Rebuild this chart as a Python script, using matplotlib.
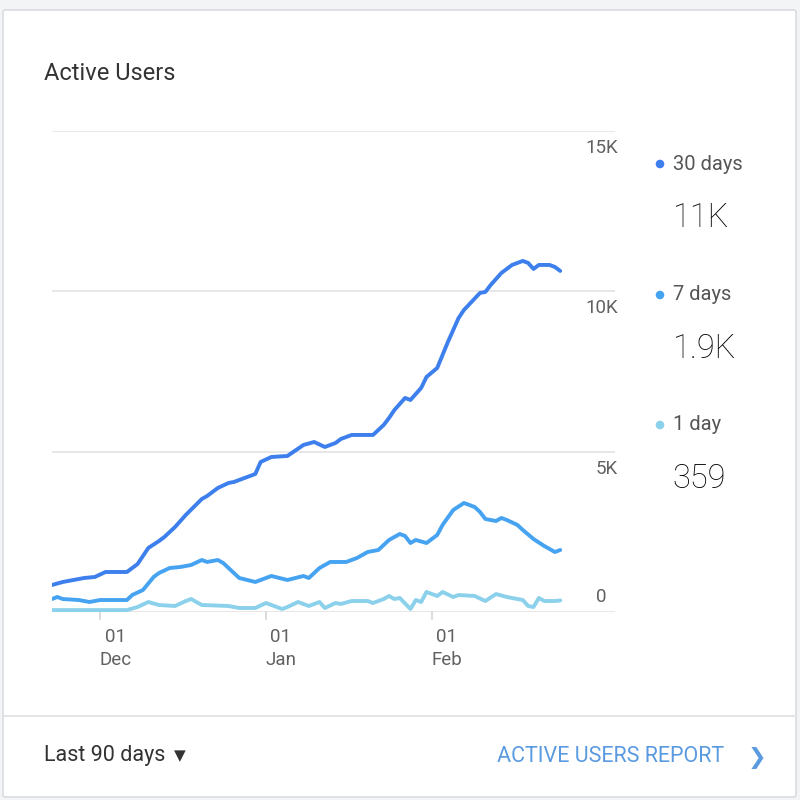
import numpy as np
import matplotlib
matplotlib.use("Agg")
import matplotlib.pyplot as plt
from matplotlib.patches import FancyBboxPatch, Circle
from matplotlib.transforms import blended_transform_factory

# ---------------- data ----------------
start_date = np.datetime64("2018-11-22")

days_30 = [0, 2, 3, 6, 8, 10, 14, 15, 16, 18, 20, 21, 23, 25, 28, 29, 31, 33, 34, 38, 39, 41, 44, 47,
           49, 51, 53, 54, 56, 60, 62, 63, 64, 66, 67, 69, 70, 72, 74, 76, 77, 80, 81, 82, 84, 86,
           88, 89, 90, 91, 93, 94, 95]
users_30 = [842, 936, 967, 1060, 1092, 1248, 1248, 1372, 1497, 1996, 2214, 2339, 2651, 3025, 3524,
            3618, 3868, 4024, 4055, 4304, 4679, 4834, 4866, 5209, 5302, 5146, 5271, 5396, 5521, 5521,
            5833, 6051, 6300, 6675, 6612, 6987, 7330, 7610, 8421, 9170, 9419, 9950, 9981, 10199,
            10573, 10823, 10948, 10885, 10698, 10823, 10823, 10760, 10636]

days_7 = [0, 1, 2, 5, 7, 9, 14, 15, 17, 19, 20, 22, 24, 25, 26, 28, 29, 31, 32, 33, 35, 38, 41, 44,
          47, 48, 50, 52, 55, 57, 59, 61, 63, 65, 66, 67, 68, 70, 72, 73, 75, 77, 79, 80, 81, 83,
          84, 85, 87, 88, 90, 92, 94, 95]
users_7 = [405, 468, 405, 374, 312, 374, 374, 530, 686, 1092, 1216, 1372, 1404, 1435, 1466, 1622,
           1560, 1622, 1528, 1372, 1060, 936, 1123, 998, 1123, 1060, 1372, 1560, 1560, 1684, 1871,
           1934, 2246, 2433, 2370, 2152, 2246, 2152, 2402, 2714, 3181, 3400, 3275, 3119, 2901, 2838,
           2932, 2870, 2714, 2558, 2277, 2059, 1871, 1934]

days_1 = [0, 7, 14, 16, 18, 20, 23, 25, 26, 28, 33, 35, 38, 40, 43, 44, 46, 48, 50, 51, 53, 54, 56,
          59, 60, 62, 63, 64, 65, 67, 68, 69, 70, 72, 73, 75, 76, 79, 81, 83, 85, 87, 88, 89, 90,
          91, 92, 94, 95]
users_1 = [60, 60, 60, 156, 312, 218, 187, 343, 405, 218, 187, 125, 125, 281, 94, 156, 312, 187, 312,
           125, 281, 250, 343, 343, 281, 405, 499, 405, 437, 94, 374, 312, 624, 499, 624, 468, 530,
           499, 343, 561, 468, 405, 374, 187, 156, 437, 343, 343, 360]

series_names = ["30 days", "7 days", "1 day"]
series_totals = ["11K", "1.9K", "359"]
y_ticks = [0, 5000, 10000, 15000]
y_tick_labels = ["0", "5K", "10K", "15K"]
x_tick_dates = ["2018-12-01", "2019-01-01", "2019-02-01"]
x_tick_days = ["01", "01", "01"]
x_tick_months = ["Dec", "Jan", "Feb"]

# ---------------- style ----------------
colors = ["#3d7fec", "#46a3f1", "#8bd1eb"]
FONT = "Roboto"
W, H = 800, 800

def fx(px):
    return px / W

def fy(py):
    return 1 - py / H

fig = plt.figure(figsize=(8, 8), dpi=100)
fig.patch.set_facecolor("#f3f4f6")

# card
card = FancyBboxPatch((fx(3), fy(797)), fx(793), (797 - 10) / H,
                      boxstyle="round,pad=0,rounding_size=0.003",
                      transform=fig.transFigure, facecolor="white",
                      edgecolor="#d4d6da", linewidth=1.0, zorder=-10)
fig.add_artist(card)
fig.add_artist(plt.Line2D([fx(3), fx(796)], [fy(716), fy(716)], transform=fig.transFigure,
                          color="#e2e3e5", lw=1.3, zorder=-5))

# chart axes: x from 52px to 615px, y 612px (0) to 131px (15K)
px_per_day = 5.35
ax_left, ax_right = 52, 615
ax_top, ax_bottom = 131, 612
ax = fig.add_axes([fx(ax_left), fy(ax_bottom), fx(ax_right - ax_left), (ax_bottom - ax_top) / H])
ax.set_zorder(5)
ax.set_facecolor("none")
ax.set_xlim(0, (ax_right - ax_left) / px_per_day)
ax.set_ylim(0, 15000)
for s in ax.spines.values():
    s.set_visible(False)
ax.set_xticks([])
ax.set_yticks([])

for v in y_ticks:
    ax.axhline(v, color="#e3e3e3", lw=1.2, zorder=1)

lw = 2.8
ax.plot(days_1, users_1, color=colors[2], lw=lw, zorder=3, solid_joinstyle="round",
        solid_capstyle="round")
ax.plot(days_7, users_7, color=colors[1], lw=lw, zorder=4, solid_joinstyle="round",
        solid_capstyle="round")
ax.plot(days_30, users_30, color=colors[0], lw=lw, zorder=5, solid_joinstyle="round",
        solid_capstyle="round")

# y tick labels (right side)
tr = blended_transform_factory(ax.transAxes, ax.transData)
for v, lab in zip(y_ticks, y_tick_labels):
    if v == 0:
        ax.text(0.985, 470, lab, transform=tr, ha="right", va="center", fontsize=13.5,
                family=FONT, color="#616161")
    else:
        ax.text(1.005, v - 250, lab, transform=tr, ha="right", va="top", fontsize=13.5,
                family=FONT, color="#616161")

# x ticks
trx = blended_transform_factory(ax.transData, ax.transAxes)
for d, dd, mm in zip(x_tick_dates, x_tick_days, x_tick_months):
    pos = (np.datetime64(d) - start_date).astype(int)
    ax.plot([pos, pos], [0, -0.014], transform=trx, color="#d5d5d5", lw=1.2, clip_on=False)
    ax.text(pos + 2.8, -0.033, dd, transform=trx, ha="center", va="top", fontsize=13.5,
            family=FONT, color="#616161")
    ax.text(pos + 2.8, -0.082, mm, transform=trx, ha="center", va="top", fontsize=13.5,
            family=FONT, color="#616161")

# title
fig.text(fx(44), fy(73), "Active Users", ha="left", va="center", fontsize=17,
         family=FONT, color="#333333")

# legend block
legend_y = [164, 295, 425]
for name, total, col, ly in zip(series_names, series_totals, colors, legend_y):
    fig.add_artist(Circle((fx(660), fy(ly)), 4.3 / W, transform=fig.transFigure,
                          facecolor=col, edgecolor="none"))
    fig.text(fx(673), fy(ly), name, ha="left", va="center", fontsize=14.5, family=FONT,
             color="#555555")
    fig.text(fx(672), fy(ly + 54), total, ha="left", va="center", fontsize=23.5, family=FONT,
             weight="light", color="#000000")

# footer
fig.text(fx(44), fy(756), "Last 90 days", ha="left", va="center", fontsize=15.5, family=FONT,
         color="#333333")
fig.text(fx(180), fy(756), "▼", ha="center", va="center", fontsize=11,
         family=["DejaVu Sans"], color="#333333")
fig.text(fx(497), fy(757), "ACTIVE USERS REPORT", ha="left", va="center", fontsize=15.5,
         family=FONT, color="#5a9ae0")
fig.text(fx(757), fy(758), "❯", ha="center", va="center", fontsize=16,
         family=["DejaVu Sans"], color="#5a9ae0")

fig.savefig("out.png", dpi=100, facecolor=fig.get_facecolor())
